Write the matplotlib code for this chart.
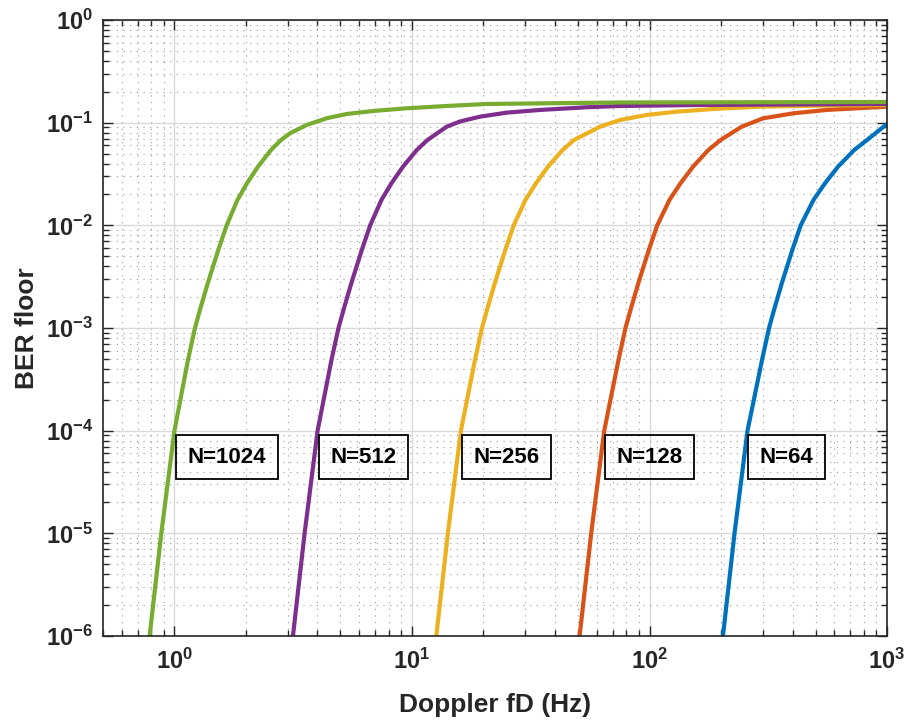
import matplotlib.pyplot as plt
from matplotlib.ticker import LogLocator, NullFormatter, FixedLocator

# values (Doppler fD in Hz, BER floor)
# BER levels where the steep part of each curve was read
ber_low = [1e-6, 1e-5, 1e-4, 4.89e-4, 1.0e-3, 1.5e-3, 2.73e-3, 5.76e-3, 1.0e-2,
           0.0177, 0.0257, 0.0373, 0.0542, 0.0678]

fd_1024 = [0.786, 0.880, 1.0, 1.140, 1.220, 1.280, 1.381, 1.529, 1.659, 1.842, 2.020, 2.247, 2.549, 2.808,
           3.064, 3.603, 4.374, 5.311, 6.873, 9.50, 14.0, 20.63, 75.12, 1000]
ber_1024 = ber_low + [0.0788, 0.0950, 0.1104, 0.1215, 0.1300, 0.1381, 0.1454, 0.1521, 0.1573, 0.1591]

fd_512 = [3.154, 3.531, 4.005, 4.582, 4.904, 5.148, 5.555, 6.148, 6.668, 7.440, 8.197, 9.165, 10.48, 11.62,
          14.00, 15.93, 19.33, 25.04, 34.58, 54.39, 75.12, 163.2, 1000]
ber_512 = ber_low + [0.0914, 0.1027, 0.1144, 0.1252, 0.1330, 0.1413, 0.1454, 0.1487, 0.1521]

fd_256 = [12.66, 14.16, 16.07, 18.42, 19.71, 20.69, 22.32, 24.71, 26.81, 30.05, 33.27, 37.38, 43.06, 48.10,
          61.89, 75.12, 97.29, 130.2, 185.6, 292.0, 505.8, 1000]
ber_256 = ber_low + [0.0914, 0.1062, 0.1189, 0.1280, 0.1359, 0.1432, 0.1464, 0.1487]

fd_128 = [50.78, 56.82, 64.48, 74.04, 79.22, 83.18, 89.72, 99.32, 107.8, 121.4, 135.1, 152.5, 177.0, 199.1,
          244.5, 301.5, 403.2, 557.3, 1000]
ber_128 = ber_low + [0.0914, 0.1104, 0.1234, 0.1330, 0.1432]

fd_64 = [203.8, 228.0, 258.6, 297.7, 318.6, 334.4, 360.6, 399.3, 433.1, 490.4, 548.2, 621.9, 727.7, 823.7,
         1000]
ber_64 = ber_low + [0.0971]

labels = ["N=1024", "N=512", "N=256", "N=128", "N=64"]
label_x = [1, 4, 16, 64, 256]
label_y = 5.5e-5

x_ticks = [1, 10, 100, 1000]
y_ticks = [1e-6, 1e-5, 1e-4, 1e-3, 1e-2, 1e-1, 1]

# matlab default colour order
c_blue = (0, 0.447, 0.741)
c_orange = (0.85, 0.325, 0.098)
c_yellow = (0.929, 0.694, 0.125)
c_purple = (0.494, 0.184, 0.556)
c_green = (0.466, 0.674, 0.188)

plt.rcParams['font.family'] = ['Liberation Sans', 'DejaVu Sans']
plt.rcParams['font.weight'] = 'bold'
plt.rcParams['mathtext.fontset'] = 'custom'
plt.rcParams['mathtext.rm'] = 'Liberation Sans:bold'
plt.rcParams['mathtext.bf'] = 'Liberation Sans:bold'
plt.rcParams['mathtext.it'] = 'Liberation Sans:bold'
plt.rcParams['mathtext.default'] = 'bf'

fig = plt.figure(figsize=(9.08, 7.22), dpi=100)
ax = fig.add_axes([0.1134, 0.1191, 0.8635, 0.8532])

lw = 3
ax.plot(fd_64, ber_64, color=c_blue, lw=lw)
ax.plot(fd_128, ber_128, color=c_orange, lw=lw)
ax.plot(fd_256, ber_256, color=c_yellow, lw=lw)
ax.plot(fd_512, ber_512, color=c_purple, lw=lw)
ax.plot(fd_1024, ber_1024, color=c_green, lw=lw)

ax.set_xscale('log')
ax.set_yscale('log')
ax.set_xlim(0.5, 1000)
ax.set_ylim(1e-6, 1)

ax.xaxis.set_major_locator(FixedLocator(x_ticks))
ax.yaxis.set_major_locator(FixedLocator(y_ticks))
ax.xaxis.set_minor_locator(LogLocator(base=10, subs=range(2, 10), numticks=20))
ax.yaxis.set_minor_locator(LogLocator(base=10, subs=range(2, 10), numticks=20))
ax.xaxis.set_minor_formatter(NullFormatter())
ax.yaxis.set_minor_formatter(NullFormatter())
ax.set_xticklabels([r"$10^{%d}$" % e for e in [0, 1, 2, 3]])
ax.set_yticklabels([r"$10^{%d}$" % e for e in [-6, -5, -4, -3, -2, -1, 0]])

ax.grid(True, which='major', color='0.85', lw=1.0, ls='-')
ax.grid(True, which='minor', color='0.6', lw=0.8, ls=(0, (1, 5)))
ax.set_axisbelow(True)

ax.tick_params(which='both', direction='in', top=True, right=True, colors='0.15',
               labelsize=17, labelcolor='0.15')
ax.tick_params(which='major', length=7, width=1)
ax.tick_params(which='minor', length=4, width=1)
ax.tick_params(axis='x', pad=9)
ax.tick_params(axis='y', pad=7)
for s in ax.spines.values():
    s.set_color('0.15')
    s.set_linewidth(1.2)

ax.set_xlabel("Doppler fD (Hz)", fontsize=19, fontweight='bold', color='0.15', labelpad=14)
ax.set_ylabel("BER floor", fontsize=19, fontweight='bold', color='0.15', labelpad=5)

for s, x in zip(labels, label_x):
    ax.annotate(s, xy=(x, label_y), xytext=(9.5, 0), textcoords='offset points',
                ha='left', va='center', fontsize=16, fontweight='bold',
                bbox=dict(boxstyle='square,pad=0.52', fc='none', ec='black', lw=1.3))

fig.savefig("out.png", dpi=100)
